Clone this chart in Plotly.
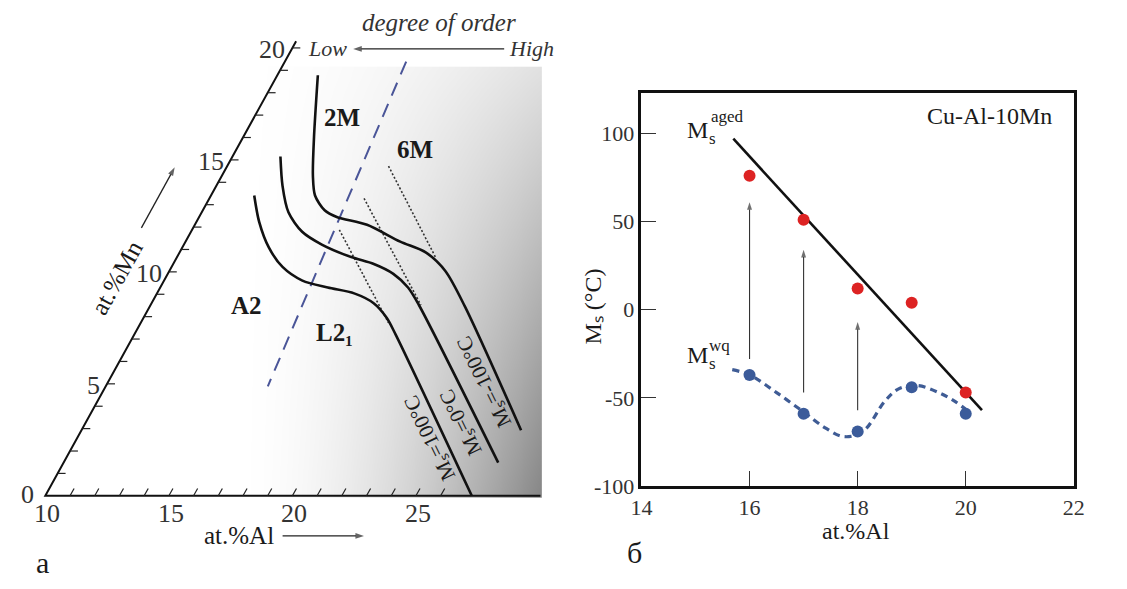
import numpy as np
import plotly.graph_objects as go

W, H = 1127, 589
SERIF = "Liberation Serif"
TXT = "#1a1a1a"

# ---------------- Panel a : composition data (at.% Al, at.% Mn) ----------------
ms_m100_al = [11.64, 12.86, 13.69, 14.21, 14.93, 15.57, 16.97, 18.69, 19.96, 21.17, 22.74, 27.79]
ms_m100_mn = [18.78, 16.03, 14.28, 13.41, 12.75, 12.45, 12.10, 11.35, 10.87, 10.04, 8.47, 2.93]
ms_0_al = [11.94, 12.68, 13.51, 14.50, 15.58, 17.05, 18.12, 19.13, 20.03, 20.86, 27.59]
ms_0_mn = [15.15, 13.84, 12.66, 11.79, 11.22, 10.66, 10.35, 9.91, 9.30, 8.52, 1.48]
ms_100_al = [11.75, 12.54, 13.50, 14.49, 15.60, 16.78, 17.98, 18.99, 19.84, 20.57, 27.26]
ms_100_mn = [13.41, 12.23, 11.09, 10.22, 9.61, 9.30, 9.04, 8.60, 7.95, 7.21, 0.0]
order_al = [14.91, 16.56]          # A2 / L2_1 boundary
order_mn = [19.39, 4.89]
dot1_al = [16.53, 20.46]; dot1_mn = [14.72, 10.66]
dot2_al = [16.26, 20.94]; dot2_mn = [13.28, 8.52]
dot3_al = [15.96, 20.02]; dot3_mn = [11.88, 7.73]
al_tick_vals = list(range(11, 27))
al_tick_labels = ["10", "15", "20", "25"]
al_label_vals = [10, 15, 20, 25]
mn_tick_vals = list(range(1, 21))
mn_label_vals = [0, 5, 10, 15, 20]
mn_tick_labels = ["0", "5", "10", "15", "20"]
AL0, AL_END, MN_END = 10, 30.04, 20.3

# ---------------- Panel б : Ms vs Al ----------------
al_pts = [16, 17, 18, 19, 20]
ms_aged = [76, 51, 12, 4, -47]
ms_wq = [-37, -59, -69, -44, -59]
aged_fit_x = [15.7, 20.3]
aged_fit_y = [97, -57]
wq_curve_x = [15.68, 16.0, 16.5, 17.0, 17.4, 17.75, 18.1, 18.5, 18.75, 19.1, 19.5, 19.8, 20.06]
wq_curve_y = [-34, -37, -47, -58, -67, -72, -69, -52, -45, -43, -47, -52, -58]
arrow_x = [16, 17, 18]
arrow_from = [-28, -47, -57]
arrow_to = [61, 34, -7]
x_ticks = [14, 16, 18, 20, 22]
y_ticks = [-100, -50, 0, 50, 100]
y_tick_text = ["-100", "-50", "0", "50", "100"]

# left-axes range (figure pixels map linearly onto these)
XR = [8.611, 31.627]
YR = [-3.581, 22.140]


def tx(al, mn):
    return [a + 0.5 * m for a, m in zip(al, mn)]


def pix(px, py):
    """figure pixel -> left-panel axis units (for decorative arrows)"""
    return (XR[0] + px / 580 * (XR[1] - XR[0]), YR[1] - py / H * (YR[1] - YR[0]))


fig = go.Figure()

# background shading of panel a
X_left, X_right, Y_top = 17.75, AL_END, 19.08
gx = np.linspace(X_left, X_right, 160)
gy = np.linspace(0, Y_top, 120)
U = (gx - X_left) / (X_right - X_left)
V = 1 - gy / Y_top
Z = 0.47 * np.outer(0.25 + 0.75 * V, U ** 1.8)
fig.add_trace(go.Heatmap(x=gx, y=gy, z=Z, zmin=0, zmax=1,
                         colorscale=[[0, "#ffffff"], [1, "#000000"]],
                         showscale=False, zsmooth="best", hoverinfo="skip",
                         xaxis="x", yaxis="y"))

# axes of the ternary section
fig.add_trace(go.Scatter(x=tx([AL0, AL0], [MN_END, 0]) + [AL_END], y=[MN_END, 0, 0],
                         mode="lines", line=dict(color="#111", width=2),
                         xaxis="x", yaxis="y", hoverinfo="skip"))
tkx, tky = [], []
for m in mn_tick_vals:
    x0 = AL0 + 0.5 * m
    tkx += [x0, x0 + 0.32, None]
    tky += [m, m, None]
for a in al_tick_vals:
    tkx += [a, a + 0.5 * 0.33, None]
    tky += [0, 0.33, None]
fig.add_trace(go.Scatter(x=tkx, y=tky, mode="lines", line=dict(color="#222", width=1.2),
                         xaxis="x", yaxis="y", hoverinfo="skip"))

# dotted guides
for al, mn in [(dot1_al, dot1_mn), (dot2_al, dot2_mn), (dot3_al, dot3_mn)]:
    fig.add_trace(go.Scatter(x=tx(al, mn), y=mn, mode="lines",
                             line=dict(color="#333", width=1.6, dash="2px,2px"),
                             xaxis="x", yaxis="y", hoverinfo="skip"))
# order boundary
fig.add_trace(go.Scatter(x=tx(order_al, order_mn), y=order_mn, mode="lines",
                         line=dict(color="#4a5598", width=2, dash="14px,9px"),
                         xaxis="x", yaxis="y", hoverinfo="skip"))
# Ms iso-lines
for al, mn in [(ms_m100_al, ms_m100_mn), (ms_0_al, ms_0_mn), (ms_100_al, ms_100_mn)]:
    fig.add_trace(go.Scatter(x=tx(al, mn), y=mn, mode="lines",
                             line=dict(color="#111", width=2.6, shape="spline", smoothing=0.8),
                             xaxis="x", yaxis="y", hoverinfo="skip"))


def arrow_trace(p0, p1, xa, ya, width=1.3, size=9, color="#222"):
    return go.Scatter(x=[p0[0], p1[0]], y=[p0[1], p1[1]], mode="lines+markers",
                      line=dict(color=color, width=width),
                      marker=dict(symbol="arrow", angleref="previous", size=[0, size],
                                  color=color, line=dict(width=0)),
                      xaxis=xa, yaxis=ya, hoverinfo="skip")


# decorative arrows of panel a
for tail, head in [((503, 50), (349, 50)), ((133, 233), (167, 171)), ((277, 548), (360, 548))]:
    fig.add_trace(arrow_trace(pix(*tail), pix(*head), "x", "y"))

# ---------------- right panel traces ----------------
for xv, y0, y1 in zip(arrow_x, arrow_from, arrow_to):
    fig.add_trace(arrow_trace((xv, y0), (xv, y1), "x2", "y2", width=1.1, size=8, color="#333"))
fig.add_trace(go.Scatter(x=wq_curve_x, y=wq_curve_y, mode="lines",
                         line=dict(color="#3f5c95", width=3.2, dash="7px,5px", shape="spline"),
                         xaxis="x2", yaxis="y2", hoverinfo="skip"))
fig.add_trace(go.Scatter(x=aged_fit_x, y=aged_fit_y, mode="lines",
                         line=dict(color="#111", width=2.6),
                         xaxis="x2", yaxis="y2", hoverinfo="skip"))
fig.add_trace(go.Scatter(x=al_pts, y=ms_wq, mode="markers",
                         marker=dict(color="#3b5b9a", size=12),
                         xaxis="x2", yaxis="y2", hoverinfo="skip"))
fig.add_trace(go.Scatter(x=al_pts, y=ms_aged, mode="markers",
                         marker=dict(color="#dd2323", size=12),
                         xaxis="x2", yaxis="y2", hoverinfo="skip"))


def ann(text, px, py, size, angle=0, color=TXT, **kw):
    d = dict(text=text, x=px / W, y=1 - py / H, xref="paper", yref="paper", showarrow=False,
             font=dict(family=SERIF, size=size, color=color), textangle=angle,
             xanchor="center", yanchor="middle")
    d.update(kw)
    return d


annotations = [
    ann("<i>degree of order</i>", 437, 23, 25, color="#333"),
    ann("<i>Low</i>", 323, 50, 22, color="#333"),
    ann("<i>High</i>", 531, 50, 22, color="#333"),
    ann("<b>2M</b>", 338, 120, 25),
    ann("<b>6M</b>", 412, 153, 25),
    ann("<b>A2</b>", 240, 312, 25),
    ann("<b>L2₁</b>", 330, 340, 25),
    ann("Mₛ=-100°C", 483, 391, 21, angle=-116),
    ann("Mₛ=0°C", 459, 432, 21, angle=-116),
    ann("Mₛ=100°C", 427, 448, 21, angle=-116),
    ann("at.%Mn", 108, 284, 25, angle=-61),
    ann("at.%Al", 233, 548, 25),
    ann("a", 32, 575, 30),
]
for v, t in zip(mn_label_vals, mn_tick_labels):
    annotations.append(dict(text=t, x=AL0 + 0.5 * v, y=v, xref="x", yref="y", showarrow=False,
                            xanchor="right", yanchor="middle", xshift=-5 if v else -9,
                            yshift=-2 if v else 1,
                            font=dict(family=SERIF, size=26, color="#333")))
for v, t in zip(al_label_vals, al_tick_labels):
    annotations.append(dict(text=t, x=v, y=0, xref="x", yref="y", showarrow=False,
                            xanchor="center", yanchor="top", xshift=2, yshift=-1,
                            font=dict(family=SERIF, size=26, color="#333")))

annotations += [
    ann("Cu-Al-10Mn", 998, 119, 24),
    ann("M", 700, 133, 24),
    ann("s", 715, 142, 17),
    ann("aged", 731, 119, 17),
    ann("M", 700, 363, 24),
    ann("s", 715, 372, 17),
    ann("wq", 723, 353, 17),
    ann("Mₛ (°C)", 594, 313, 24, angle=-90),
    ann("at.%Al", 862, 543, 24),
    ann("б", 636, 565, 30),
]

axis_common = dict(ticks="inside", ticklen=15, tickwidth=1.2, tickcolor="#333",
                   showline=True, linewidth=2.5, linecolor="#111", mirror=True,
                   showgrid=False, zeroline=False,
                   tickfont=dict(family=SERIF, size=22, color="#333"), fixedrange=True)

fig.update_layout(
    width=W, height=H, margin=dict(l=0, r=0, t=0, b=0),
    paper_bgcolor="white", plot_bgcolor="rgba(0,0,0,0)", showlegend=False,
    xaxis=dict(domain=[0, 580 / W], range=XR, visible=False, fixedrange=True),
    yaxis=dict(domain=[0, 1], range=YR, visible=False, fixedrange=True),
    xaxis2=dict(domain=[643 / W, 1084 / W], range=[14, 22], tickvals=x_ticks,
                anchor="y2", **axis_common),
    yaxis2=dict(domain=[(H - 497) / H, (H - 95) / H], range=[-100, 123], tickvals=y_ticks,
                ticktext=y_tick_text, anchor="x2", **axis_common),
    annotations=annotations,
)

fig.write_html("out.html")
